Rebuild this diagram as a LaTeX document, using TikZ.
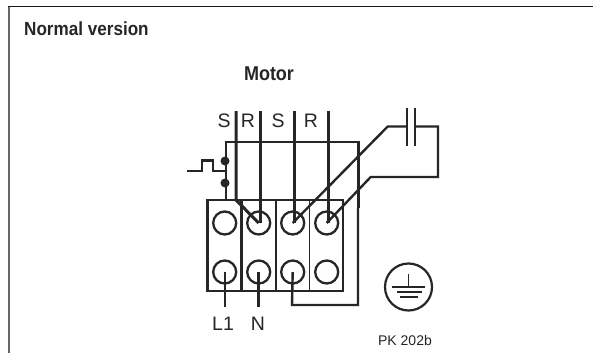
\documentclass[tikz,border=0pt]{standalone}
\usepackage{fontspec}
\setmainfont{Liberation Sans}
\newfontfamily\cond[FakeStretch=0.9]{Liberation Sans}
\definecolor{wirec}{HTML}{262626}
\tikzset{
 px/.style={x=1pt,y=-1pt},
 wire/.style={line width=2.4pt,color=wirec},
 thick wire/.style={line width=3pt,color=wirec},
 term/.style={circle,draw=wirec,line width=2.3pt,minimum size=23pt,inner sep=0pt},
 lab/.style={inner sep=0pt,text=wirec,font=\fontsize{19.5}{21}\selectfont},
 dotn/.style={circle,fill=wirec,minimum size=9pt,inner sep=0pt},
}
\begin{document}
\begin{tikzpicture}[px]
\useasboundingbox (0,0) rectangle (593,353);
\fill[white] (0,0) rectangle (593,353);
\coordinate (fbl) at (9,353); \coordinate (ftl) at (9,6.5); \coordinate (ftr) at (593,6.5);
\draw[line width=1.6pt,color=black!60] (fbl) -- (ftl);
\draw[line width=1.3pt,color=black!90] (8.2,6.5) -- (ftr);
\node[anchor=west,inner sep=0pt,font=\cond\bfseries\fontsize{19}{21}\selectfont,text=wirec] (title) at (24,29) {Normal version};
\node[inner sep=0pt,font=\cond\bfseries\fontsize{20}{22}\selectfont,text=wirec] (motor) at (269,74) {Motor};
% Labels
\node[lab] (ls1) at (224,121) {S};
\node[lab] (lr1) at (248,121) {R};
\node[lab] (ls2) at (278,121) {S};
\node[lab] (lr2) at (311,121) {R};
\node[lab] (l1) at (223,324) {L1};
\node[lab] (ln) at (258,324) {N};
\node[inner sep=0pt,font=\fontsize{14}{16}\selectfont,text=wirec] (pk) at (405,340) {PK 202b};
% terminal block
\draw[line width=2.6pt,color=wirec] (207.5,200) rectangle (343,291);
\draw[line width=2.4pt,color=wirec] (241.5,200) -- (241.5,291);
\draw[line width=2.8pt,color=wirec] (276,200) -- (276,291);
\draw[line width=1.8pt,color=wirec] (309.5,200) -- (309.5,291);
\node[term,fill=white] (t1) at (224.7,223) {};
\node[term,fill=white] (t2) at (258.7,223) {};
\node[term,fill=white] (t3) at (292.7,223) {};
\node[term,fill=white] (t4) at (326.7,223) {};
\node[term,fill=white] (b1) at (224.7,272) {};
\node[term,fill=white] (b2) at (258.7,272) {};
\node[term,fill=white] (b3) at (292.7,272) {};
\node[term,fill=white] (b4) at (326.7,272) {};
% motor frame
\coordinate (mtl) at (226,142); \coordinate (mtr) at (358.5,142);
\draw[wire] (226,200) -- (mtl) -- (mtr) -- (358.5,208);
% winding lines
\draw[thick wire] (236,111) -- (236,200) -- (t2.center);
\draw[wire] (260.5,111) -- (260.5,223);
\draw[thick wire] (294,111) -- (294,223);
\draw[wire] (328.5,111) -- (328.5,223);
% thermal switch
\node[dotn] (d1) at (225,161) {};
\node[dotn] (d2) at (225,183) {};
\coordinate (sw0) at (187,171); \coordinate (sw1) at (202,171); \coordinate (sw2) at (202,160.5); \coordinate (sw3) at (212.7,160.5); \coordinate (sw4) at (212.7,171);
\draw[wire] (sw0) -- (sw1) -- (sw2) -- (sw3) -- (sw4) -- (226,171);
% capacitor
\coordinate (c1) at (387.7,126.5); \coordinate (c2) at (438,126.5); \coordinate (c3) at (438,177); \coordinate (c4) at (370.7,177);
\draw[wire] (t3.center) -- (c1) -- (407,126.5);
\draw[wire] (414.7,126.5) -- (c2) -- (c3) -- (c4) -- (t4.center);
\draw[wire] (407,108) -- (407,146);
\draw[wire] (414.7,108) -- (414.7,146);
% bottom wires
\draw[wire] (b1.center) -- (224.7,307);
\draw[thick wire] (b2.center) -- (258.7,307);
\draw[wire] (b3.center) -- (292,305) -- (358,305) -- (358,208);
% earth
\node[circle,draw=wirec,line width=2.2pt,minimum size=47pt,inner sep=0pt] (pe) at (408.5,287) {};
\coordinate (e1) at (408.5,273.5); \coordinate (e2) at (408.5,287);
\draw[line width=1.4pt,color=wirec] (e1) -- (e2);
\draw[line width=1.4pt,color=wirec] (391.7,287) -- (425,287) (396.7,291.8) -- (421.7,291.8);
\draw[line width=1.8pt,color=wirec] (400,296.8) -- (418,296.8);
\end{tikzpicture}
\end{document}
